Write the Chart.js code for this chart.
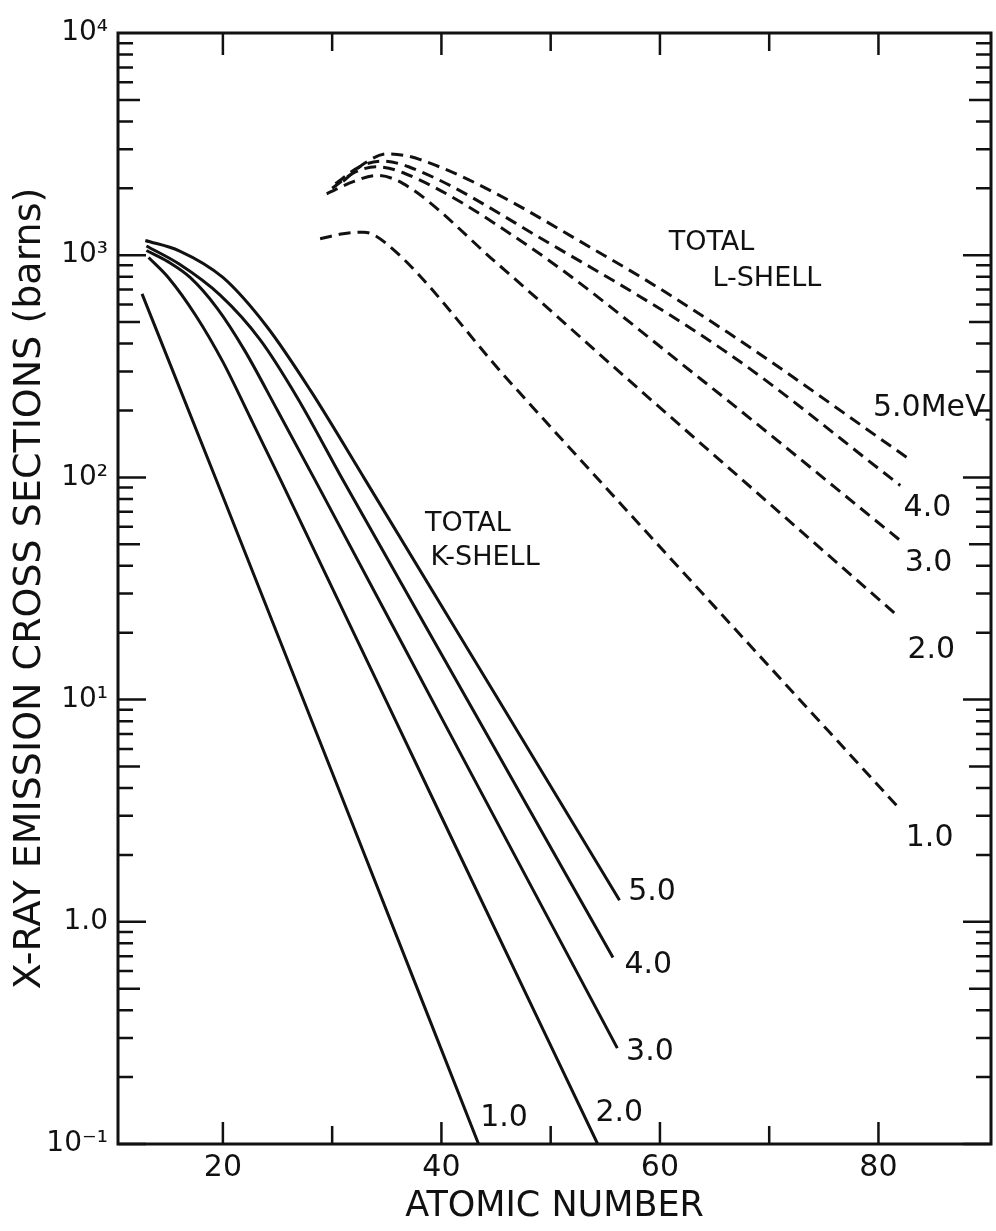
<!DOCTYPE html>
<html>
<head>
<meta charset="utf-8">
<title>X-ray emission cross sections</title>
<script src="https://cdn.jsdelivr.net/npm/chart.js@4.4.1/dist/chart.umd.min.js"></script>
<style>
  body { margin: 0; background: #fff; }
  #wrap { width: 996px; height: 1231px; }
</style>
</head>
<body>
<div id="wrap"><canvas id="xray-cross-sections"></canvas></div>
<script>
"use strict";

// Total K-shell cross sections (barns) vs atomic number, one pair per proton energy
const K_10_Z = [12.6, 20, 30, 43.4];
const K_10_SIGMA = [670, 82, 4.7, 0.1];
const K_20_Z = [13.2, 15, 17.5, 20, 22.5, 25.3, 40, 54.3];
const K_20_SIGMA = [977, 794, 537, 331, 186, 97, 2.97, 0.1];
const K_30_Z = [13, 15, 17, 19.5, 22, 25, 28.45, 40, 56.1];
const K_30_SIGMA = [1050, 933, 794, 575, 372, 200, 97, 8.3, 0.27];
const K_40_Z = [13, 16, 19.75, 23.4, 26.8, 31, 43, 55.7];
const K_40_SIGMA = [1100, 912, 661, 417, 229, 97, 8.8, 0.69];
const K_50_Z = [12.9, 16, 20, 24, 28, 33, 45, 56.3];
const K_50_SIGMA = [1165, 1047, 794, 479, 247, 98, 10.4, 1.25];

// Total L-shell cross sections (barns)
const L_10_Z = [28.9, 31, 32.9, 35, 46, 62, 82];
const L_10_SIGMA = [1186, 1250, 1270, 1124, 278, 38, 3.2];
const L_20_Z = [29.5, 32, 34.1, 36.5, 45, 57, 81.9];
const L_20_SIGMA = [1890, 2150, 2285, 2100, 927, 278, 23.5];
const L_30_Z = [30, 32, 34, 36.5, 48, 63.7, 82];
const L_30_SIGMA = [2000, 2350, 2500, 2350, 1096, 278, 52];
const L_40_Z = [30.3, 32.5, 34.5, 37, 50, 66.2, 82];
const L_40_SIGMA = [2100, 2500, 2650, 2500, 1122, 363, 92];
const L_50_Z = [31, 33, 35, 38, 55.7, 66.3, 82.6];
const L_50_SIGMA = [2150, 2600, 2860, 2700, 946, 446, 123];

const X_TICKS = [20, 40, 60, 80];
const X_MINOR_TICKS = [30, 50, 70];
const Y_TICKS = [0.1, 1, 10, 100, 1000, 10000];
const Y_TICK_LABELS = ['10⁻¹', '1.0', '10¹', '10²', '10³', '10⁴'];

// curve captions, anchored at the left edge / vertical middle of the text
const NOTES = [
  { text: 'TOTAL', z: 38.5, sigma: 62, size: 27 },
  { text: 'K-SHELL', z: 39.0, sigma: 43.6, size: 27 },
  { text: 'TOTAL', z: 60.8, sigma: 1140, size: 27 },
  { text: 'L-SHELL', z: 64.8, sigma: 785, size: 27 },
  { text: '5.0', z: 57.1, sigma: 1.36, size: 30 },
  { text: '4.0', z: 56.75, sigma: 0.635, size: 30 },
  { text: '3.0', z: 56.9, sigma: 0.258, size: 30 },
  { text: '2.0', z: 54.1, sigma: 0.138, size: 30 },
  { text: '1.0', z: 43.55, sigma: 0.131, size: 30 },
  { text: '5.0MeV', z: 79.5, sigma: 204, size: 30 },
  { text: '4.0', z: 82.3, sigma: 73, size: 30 },
  { text: '3.0', z: 82.4, sigma: 41, size: 30 },
  { text: '2.0', z: 82.65, sigma: 16.6, size: 30 },
  { text: '1.0', z: 82.5, sigma: 2.37, size: 30 }
];

const FONT = 'DejaVu Sans';
const INK = '#111';

function toPoints(zs, sigmas) {
  return zs.map((z, i) => ({ x: z, y: sigmas[i] }));
}

function curve(label, zs, sigmas, dashed) {
  return {
    label: label,
    data: toPoints(zs, sigmas),
    borderColor: INK,
    borderWidth: 3,
    borderDash: dashed ? [12, 7] : [],
    pointRadius: 0,
    fill: false,
    cubicInterpolationMode: 'monotone'
  };
}

// plot frame with inward tick marks on all four sides, plus curve captions
const frameTicks = {
  id: 'frameTicks',
  afterDatasetsDraw(chart) {
    const { ctx, chartArea: a, scales: { x, y } } = chart;
    ctx.save();
    ctx.strokeStyle = INK;
    ctx.lineWidth = 3;
    ctx.strokeRect(a.left, a.top, a.right - a.left, a.bottom - a.top);

    ctx.lineWidth = 2.5;
    ctx.beginPath();
    X_TICKS.concat(X_MINOR_TICKS).forEach(z => {
      const px = x.getPixelForValue(z);
      const len = X_TICKS.includes(z) ? 22 : 18;
      ctx.moveTo(px, a.bottom);
      ctx.lineTo(px, a.bottom - len);
      ctx.moveTo(px, a.top);
      ctx.lineTo(px, a.top + len);
    });
    for (let e = -1; e < 4; e++) {
      for (let m = 1; m <= 9; m++) {
        const py = y.getPixelForValue(m * Math.pow(10, e));
        const len = m === 1 ? 28 : (m === 5 ? 22 : 15);
        ctx.moveTo(a.left, py);
        ctx.lineTo(a.left + len, py);
        ctx.moveTo(a.right, py);
        ctx.lineTo(a.right - len, py);
      }
    }
    ctx.stroke();

    ctx.fillStyle = INK;
    ctx.textBaseline = 'middle';
    ctx.textAlign = 'left';
    NOTES.forEach(n => {
      ctx.font = n.size + 'px "' + FONT + '"';
      ctx.fillText(n.text, x.getPixelForValue(n.z), y.getPixelForValue(n.sigma));
    });

    // short leader after the 5.0 MeV caption
    const lead = NOTES[9];
    ctx.font = lead.size + 'px "' + FONT + '"';
    const lx = x.getPixelForValue(lead.z) + ctx.measureText(lead.text).width;
    const ly = y.getPixelForValue(lead.sigma) + 11;
    ctx.lineWidth = 2;
    ctx.beginPath();
    ctx.moveTo(lx, ly);
    ctx.lineTo(a.right, ly);
    ctx.stroke();
    ctx.restore();
  }
};

const ctx = document.getElementById('xray-cross-sections').getContext('2d');
const xrayChart = new Chart(ctx, {
  type: 'line',
  data: {
    datasets: [
      curve('K 1.0 MeV', K_10_Z, K_10_SIGMA, false),
      curve('K 2.0 MeV', K_20_Z, K_20_SIGMA, false),
      curve('K 3.0 MeV', K_30_Z, K_30_SIGMA, false),
      curve('K 4.0 MeV', K_40_Z, K_40_SIGMA, false),
      curve('K 5.0 MeV', K_50_Z, K_50_SIGMA, false),
      curve('L 1.0 MeV', L_10_Z, L_10_SIGMA, true),
      curve('L 2.0 MeV', L_20_Z, L_20_SIGMA, true),
      curve('L 3.0 MeV', L_30_Z, L_30_SIGMA, true),
      curve('L 4.0 MeV', L_40_Z, L_40_SIGMA, true),
      curve('L 5.0 MeV', L_50_Z, L_50_SIGMA, true)
    ]
  },
  options: {
    responsive: true,
    maintainAspectRatio: false,
    animation: false,
    layout: {
      padding: { left: 0, right: 5, top: 33, bottom: 0 }
    },
    scales: {
      x: {
        type: 'linear',
        min: 10.4,
        max: 90.3,
        afterBuildTicks: scale => {
          scale.ticks = X_TICKS.map(v => ({ value: v }));
        },
        afterFit: scale => {
          scale.height = 87;
        },
        grid: { display: false, drawTicks: false },
        border: { display: false },
        ticks: {
          color: INK,
          padding: 6,
          maxRotation: 0,
          font: { family: FONT, size: 30 },
          callback: v => String(v)
        },
        title: {
          display: true,
          text: 'ATOMIC NUMBER',
          color: INK,
          padding: { top: 0, bottom: 3 },
          font: { family: FONT, size: 35 }
        }
      },
      y: {
        type: 'logarithmic',
        min: 0.1,
        max: 10000,
        afterBuildTicks: scale => {
          scale.ticks = Y_TICKS.map(v => ({ value: v }));
        },
        afterFit: scale => {
          scale.width = 118;
        },
        grid: { display: false, drawTicks: false },
        border: { display: false },
        ticks: {
          color: INK,
          padding: 10,
          font: { family: FONT, size: 28 },
          callback: v => Y_TICK_LABELS[Y_TICKS.indexOf(v)]
        },
        title: {
          display: true,
          text: 'X-RAY EMISSION CROSS SECTIONS (barns)',
          color: INK,
          padding: { top: 7, bottom: 0 },
          font: { family: FONT, size: 38 }
        }
      }
    },
    plugins: {
      legend: { display: false },
      tooltip: { enabled: false }
    }
  },
  plugins: [frameTicks]
});
</script>
</body>
</html>
